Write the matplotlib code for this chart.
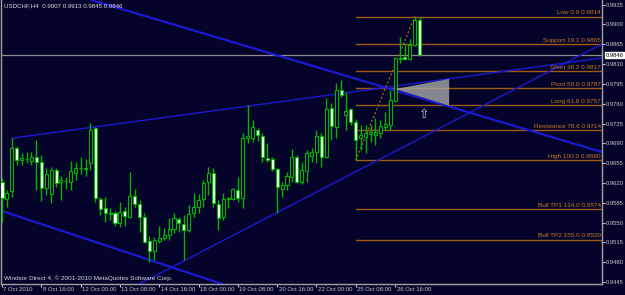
import matplotlib.pyplot as plt
from matplotlib.transforms import blended_transform_factory, ScaledTranslation

plt.rcParams['font.family'] = ['Liberation Sans', 'DejaVu Sans']

# USDCHF H4 candles, 7 Oct 2010 08:00 .. 27 Oct 2010 12:00
opens = [0.9622, 0.9592, 0.9605, 0.9682, 0.9661, 0.9662, 0.9659, 0.9666, 0.9657, 0.9611,
         0.9600, 0.9643, 0.9622, 0.9623, 0.9622, 0.9638, 0.9646, 0.9646, 0.9655, 0.9717,
         0.9592, 0.9576, 0.9566, 0.9567, 0.9549, 0.9570, 0.9560, 0.9597, 0.9583, 0.9560,
         0.9517, 0.9500, 0.9517, 0.9523, 0.9528, 0.9539, 0.9556, 0.9547, 0.9537, 0.9567,
         0.9578, 0.9592, 0.9622, 0.9638, 0.9583, 0.9560, 0.9592, 0.9592, 0.9608, 0.9593,
         0.9699, 0.9699, 0.9714, 0.9703, 0.9664, 0.9662, 0.9645, 0.9609, 0.9616, 0.9631,
         0.9666, 0.9622, 0.9641, 0.9668, 0.9675, 0.9703, 0.9666, 0.9752, 0.9719, 0.9784,
         0.9740, 0.9751, 0.9728, 0.9699, 0.9701, 0.9706, 0.9705, 0.9708, 0.9719, 0.9722,
         0.9765, 0.9839, 0.9843, 0.9839, 0.9864, 0.9907]
highs = [0.9629, 0.9608, 0.9699, 0.9685, 0.9673, 0.9675, 0.9675, 0.9696, 0.9669, 0.9646,
         0.9648, 0.9646, 0.9632, 0.9631, 0.9659, 0.9657, 0.9666, 0.9662, 0.9726, 0.9719,
         0.9595, 0.9595, 0.9576, 0.9570, 0.9586, 0.9578, 0.9639, 0.9609, 0.9590, 0.9567,
         0.9526, 0.9525, 0.9544, 0.9540, 0.9558, 0.9567, 0.9560, 0.9563, 0.9581, 0.9602,
         0.9600, 0.9625, 0.9648, 0.9646, 0.9590, 0.9602, 0.9595, 0.9611, 0.9631, 0.9708,
         0.9758, 0.9731, 0.9717, 0.9708, 0.9691, 0.9666, 0.9646, 0.9622, 0.9639, 0.9680,
         0.9669, 0.9657, 0.9678, 0.9682, 0.9714, 0.9708, 0.9770, 0.9761, 0.9797, 0.9802,
         0.9781, 0.9752, 0.9733, 0.9722, 0.9722, 0.9722, 0.9735, 0.9731, 0.9745, 0.9784,
         0.9843, 0.9878, 0.9867, 0.9874, 0.9914, 0.9913]
lows = [0.9551, 0.9578, 0.9595, 0.9652, 0.9652, 0.9655, 0.9652, 0.9608, 0.9588, 0.9599,
        0.9585, 0.9613, 0.9590, 0.9609, 0.9608, 0.9625, 0.9636, 0.9632, 0.9643, 0.9586,
        0.9563, 0.9551, 0.9555, 0.9544, 0.9542, 0.9544, 0.9558, 0.9578, 0.9533, 0.9514,
        0.9480, 0.9484, 0.9514, 0.9519, 0.9519, 0.9532, 0.9533, 0.9484, 0.9533, 0.9560,
        0.9567, 0.9578, 0.9599, 0.9578, 0.9537, 0.9555, 0.9576, 0.9590, 0.9586, 0.9576,
        0.9691, 0.9692, 0.9694, 0.9657, 0.9657, 0.9641, 0.9567, 0.9595, 0.9608, 0.9622,
        0.9620, 0.9618, 0.9622, 0.9657, 0.9655, 0.9648, 0.9664, 0.9696, 0.9699, 0.9772,
        0.9714, 0.9722, 0.9660, 0.9678, 0.9673, 0.9692, 0.9687, 0.9699, 0.9714, 0.9714,
        0.9763, 0.9832, 0.9837, 0.9837, 0.9862, 0.9845]
closes = [0.9593, 0.9602, 0.9682, 0.9661, 0.9664, 0.9663, 0.9666, 0.9657, 0.9611, 0.9636,
          0.9643, 0.9620, 0.9625, 0.9624, 0.9641, 0.9646, 0.9647, 0.9645, 0.9714, 0.9593,
          0.9574, 0.9567, 0.9567, 0.9549, 0.9569, 0.9562, 0.9597, 0.9583, 0.9560, 0.9516,
          0.9500, 0.9519, 0.9523, 0.9528, 0.9539, 0.9558, 0.9549, 0.9537, 0.9565, 0.9578,
          0.9590, 0.9620, 0.9638, 0.9585, 0.9558, 0.9592, 0.9593, 0.9609, 0.9593, 0.9699,
          0.9703, 0.9719, 0.9705, 0.9666, 0.9661, 0.9645, 0.9613, 0.9616, 0.9632, 0.9666,
          0.9622, 0.9643, 0.9673, 0.9675, 0.9703, 0.9666, 0.9751, 0.9721, 0.9784, 0.9775,
          0.9747, 0.9728, 0.9696, 0.9705, 0.9708, 0.9710, 0.9710, 0.9721, 0.9724, 0.9767,
          0.9841, 0.9841, 0.9839, 0.9864, 0.9908, 0.9846]

date_ticks = [0, 8, 16, 24, 32, 40, 48, 56, 64, 72, 80]
date_labels = ['7 Oct 2010', '8 Oct 16:00', '12 Oct 00:00', '13 Oct 08:00', '14 Oct 16:00',
               '18 Oct 00:00', '19 Oct 08:00', '20 Oct 16:00', '22 Oct 00:00',
               '25 Oct 08:00', '26 Oct 16:00']
price_ticks = [0.9445, 0.9480, 0.9515, 0.9550, 0.9585, 0.9620, 0.9655, 0.9690,
               0.9725, 0.9760, 0.9795, 0.9830, 0.9865, 0.9900, 0.9935]

fib_names = ['Low 0.0', 'Support 19.1', 'Short 38.2', 'Pivot 50.0', 'Long 61.8',
             'Resistance 78.6', 'High 100.0', 'Bull TP1 134.0', 'Bull TP2 155.0']
fib_levels = [0.9914, 0.9865, 0.9817, 0.9787, 0.9757, 0.9714, 0.9660, 0.9574, 0.9520]
fib_start = 72
fib_trend_x = [72, 84]
fib_trend_y = [0.9660, 0.9914]

# trend lines: (bar, price) pairs
line_a = [(19.5, 0.99397), (122.1, 0.96747)]
line_b = [(0.0, 0.95704), (34.2, 0.94720)]
line_c = [(34.2, 0.94697), (122.1, 0.98655)]
line_d = [(2.0, 0.96990), (122.1, 0.98408)]
tri_x = [80.0, 91.0, 91.0]
tri_y = [0.97860, 0.98037, 0.97565]
last_price = 0.9846

bg = '#04042b'
green = '#00b400'
blue = '#1a1ad2'
fib_line = '#a05a14'
fib_text = '#cc7a1e'
grey_text = '#c8c8c8'

fig = plt.figure(figsize=(6.25, 2.95), dpi=100)
fig.patch.set_facecolor(bg)
ax = fig.add_axes([1 / 625, 11 / 295, 601 / 625, 284 / 295])
ax.set_facecolor(bg)
ax.set_xlim(-0.2, 122.1)
ax.set_ylim(0.94415, 0.99432)

# trend lines
ax.axline(line_a[0], line_a[1], color=blue, lw=1.6, zorder=2)
ax.axline(line_b[0], line_b[1], color=blue, lw=1.6, zorder=2)
ax.axline(line_c[0], line_c[1], color=blue, lw=1.0, zorder=2)
slope_d = (line_d[1][1] - line_d[0][1]) / (line_d[1][0] - line_d[0][0])
ax.plot([line_d[0][0], 130], [line_d[0][1], line_d[0][1] + slope_d * (130 - line_d[0][0])],
        color=blue, lw=1.0, zorder=2)

# fibo
for name, lev in zip(fib_names, fib_levels):
    ax.plot([fib_start, 130], [lev, lev], color=fib_line, lw=1.0, zorder=1)
    ax.text(121.9, lev + 0.0002, f'{name} {lev:.4f}', ha='right', va='bottom',
            fontsize=4.6, color=fib_text, zorder=5)
ax.plot(fib_trend_x, fib_trend_y, color=fib_line, lw=1.0, ls=(0, (1.5, 1.5)), zorder=3)

# current price line
ax.axhline(last_price, color='#8c8c8c', lw=0.9, zorder=1)

# candles
for i, (o, h, l, c) in enumerate(zip(opens, highs, lows, closes)):
    ax.vlines(i, l, h, color=green, lw=1.0, zorder=3)
    fc = bg if c >= o else '#f4fff4'
    ax.bar(i, max(abs(c - o), 0.00004), bottom=min(o, c), width=0.62,
           facecolor=fc, edgecolor=green, lw=0.8, zorder=4)

ax.fill(tri_x, tri_y, color='#a8a8a8', alpha=0.8, lw=0, zorder=6)
ax.text(85.9, 0.97418, '\u21e7', family='DejaVu Sans', fontsize=9, color='#d0d0d0',
        ha='center', va='center', zorder=6)

# axes styling
for side in ['left', 'bottom', 'right']:
    ax.spines[side].set_color('#a0a0a0')
    ax.spines[side].set_linewidth(1.0)
ax.spines['top'].set_visible(False)
ax.yaxis.tick_right()
ax.set_yticks(price_ticks)
ax.set_yticklabels([f'{p:.4f}' for p in price_ticks])
ax.tick_params(axis='y', length=2, width=0.8, pad=0.8, colors=grey_text, labelsize=4.2)
ax.set_xticks(date_ticks)
ax.set_xticklabels(date_labels)
ax.tick_params(axis='x', length=2, width=0.8, pad=0.3, colors=grey_text, labelsize=4.3)
off = ScaledTranslation(1.5 / 100, 0, fig.dpi_scale_trans)
for lab in ax.get_xticklabels():
    lab.set_ha('left')
    lab.set_transform(lab.get_transform() + off)

ax.text(0.005, 0.978, 'USDCHF,H4  0.9907 0.9913 0.9845 0.9846', transform=ax.transAxes,
        fontsize=4.4, color='#e0e0e0', va='center', ha='left')
ax.text(0.005, 0.022, 'Windsor Direct 4, \u00a9 2001-2010 MetaQuotes Software Corp.',
        transform=ax.transAxes, fontsize=4.6, color='#d8d8d8', va='center', ha='left')

trans = blended_transform_factory(ax.transAxes, ax.transData)
ax.text(1.006, last_price, f'{last_price:.4f}', transform=trans, fontsize=4.2, color='black',
        ha='left', va='center', zorder=7,
        bbox=dict(facecolor='white', edgecolor='white', pad=0.6))

fig.savefig('out.png', dpi=100, facecolor=bg)
